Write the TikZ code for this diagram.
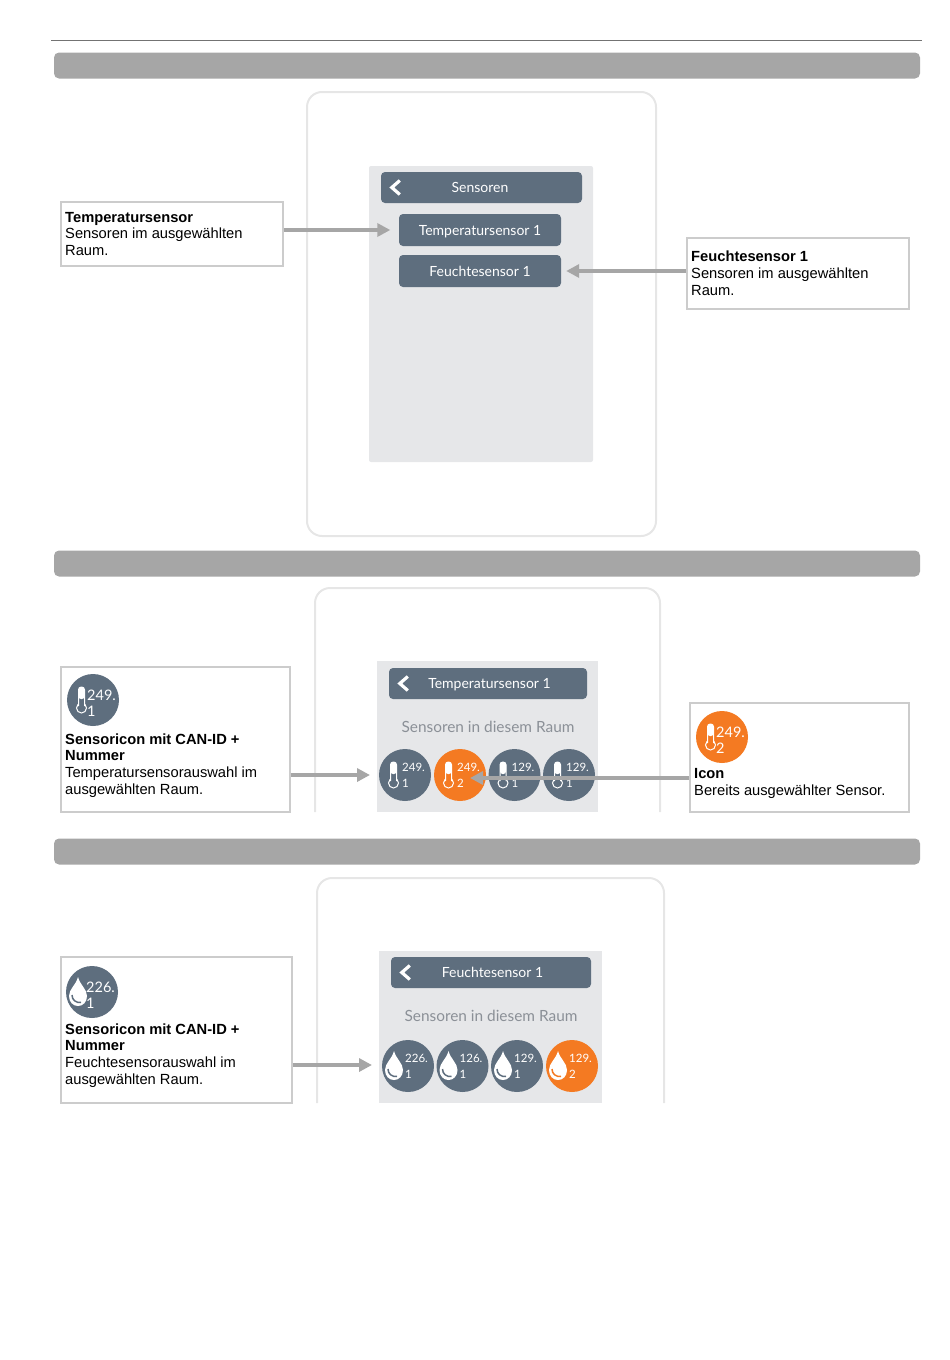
\documentclass[tikz,border=0pt]{standalone}
\usepackage{fontspec}
\setmainfont{Liberation Sans}
\newfontfamily\uifont{Lato}
\usetikzlibrary{arrows.meta}
\definecolor{slate}{HTML}{5E6E7E}
\definecolor{signal}{HTML}{F47A22}
\definecolor{barcol}{HTML}{A6A6A6}
\definecolor{screencol}{HTML}{E6E7E9}
\definecolor{shellcol}{HTML}{E6E6E6}
\definecolor{framecol}{HTML}{CCCCCC}
\definecolor{captioncol}{HTML}{8B9097}
\tikzset{
  headbar/.style={fill=barcol, rounded corners=5pt, inner sep=0pt, minimum width=866pt, minimum height=26pt},
  infobox/.style={draw=framecol, line width=1.1pt, fill=white, inner sep=0pt},
  infotext/.style={anchor=west, inner sep=0pt, align=left, font=\fontsize{14.7}{16.8}\selectfont},
  titlebar/.style={fill=slate, rounded corners=4pt, inner sep=0pt, text=white, text height=11pt, text depth=1pt, font=\uifont\fontsize{14}{16}\selectfont},
  caption/.style={inner sep=0pt, text=captioncol, font=\uifont\fontsize{15.4}{17}\selectfont},
  sensordot/.style={circle, inner sep=0pt, minimum size=52pt},
  smalldigit/.style={anchor=west, inner sep=0pt, text=white, font=\uifont\fontsize{11.5}{14}\selectfont},
  bigdigit/.style={smalldigit, xshift=-3pt, yshift=-3pt, font=\uifont\fontsize{14.5}{16}\selectfont},
  shell/.style={draw=shellcol, line width=2pt, rounded corners=15pt},
  pointer/.style={draw=barcol, line width=3.5pt, -{Triangle[length=13pt,width=13pt]}}
}
% dot with thermometer: name, x, y, colour, upper, lower, text style
\newcommand{\thermodot}[7]{
  \begin{scope}[shift={(#2,#3)}]
    \node [sensordot, fill=#4] (#1) at (0,0) {};
    \draw [white, line width=1pt] (-11.5,8) circle (5);
    \draw [white, line width=1pt, fill=#4, rounded corners=2.8pt] (-14.5,6) -- (-14.5,-13) -- (-8.5,-13) -- (-8.5,6);
    \fill [white, rounded corners=2.5pt] (-14.5,-1) -- (-14.5,-13) -- (-8.5,-13) -- (-8.5,-1) -- cycle;
    \node [#7] (#1up) at (-3,-8) {#5};
    \node [#7] (#1low) at (-3,8) {#6};
  \end{scope}
}
% dot with drop
\newcommand{\dropdot}[7]{
  \begin{scope}[shift={(#2,#3)}]
    \node [sensordot, fill=#4] (#1) at (0,0) {};
    \fill [white] (-14,-15) .. controls (-16,-7) and (-23,-3) .. (-23,4) .. controls (-23,10) and (-19,14) .. (-14,14) .. controls (-9,14) and (-5,10) .. (-5,4) .. controls (-5,-3) and (-12,-7) .. (-14,-15);
    \draw [#4, line width=1.5pt] (-20,3) .. controls (-20,8) and (-16,11) .. (-11,10.5);
    \node [#7] (#1up) at (-3,-8) {#5};
    \node [#7] (#1low) at (-3,8) {#6};
  \end{scope}
}
% back mark inside a title bar
\newcommand{\backmark}[1]{
  \draw [white, line width=3.2pt] ([shift={(19,-7)}]#1.west) -- ([shift={(11,0)}]#1.west) -- ([shift={(19,7)}]#1.west);
}
\begin{document}
\begin{tikzpicture}[x=1pt, y=-1pt]
\useasboundingbox (0,0) rectangle (950,1360);
\draw [black!55, line width=0.8pt] (51,40.5) -- (922,40.5);
\node [headbar] (headone) at (487,65.5) {};
\node [headbar] (headtwo) at (487,563.5) {};
\node [headbar] (headthree) at (487,851.5) {};
% first panel
\draw [shell] (307,92) rectangle (656,536);
\fill [screencol, rounded corners=2pt] (369,166) rectangle (593,462);
\node [titlebar, minimum width=201pt, minimum height=31pt] (baronelabel) at (481.5,187.5) {\hspace*{-3pt}Sensoren};
\backmark{baronelabel}
\node [titlebar, minimum width=162pt, minimum height=32pt] (btntemp) at (480,230) {Temperatursensor 1};
\node [titlebar, minimum width=162pt, minimum height=32pt] (btnhum) at (480,271) {Feuchtesensor 1};
\node [infobox, minimum width=222pt, minimum height=64pt] (tempbox) at (172,234) {};
\node [infotext] (temptext) at (65,234) {\textbf{Temperatursensor}\\Sensoren im ausgewählten\\Raum.};
\node [infobox, minimum width=222pt, minimum height=71pt] (humbox) at (798,273.5) {};
\node [infotext] (humtext) at (691,273.5) {\textbf{Feuchtesensor 1}\\Sensoren im ausgewählten\\Raum.};
\draw [pointer, shorten >=8.5pt] (tempbox.east |- btntemp) -- (btntemp.west);
\draw [pointer, shorten >=5pt] (humbox.west |- btnhum) -- (btnhum.east);
% second panel
\draw [shell] (315,812) -- (315,588) -- (660,588) -- (660,812);
\fill [screencol] (377,661) rectangle (598,812);
\node [titlebar, minimum width=198pt, minimum height=31pt] (bartwolabel) at (488,683.5) {\hspace*{3pt}Temperatursensor 1};
\backmark{bartwolabel}
\node [caption] (captwo) at (488,727) {Sensoren in diesem Raum};
\thermodot{tdotone}{405}{775}{slate}{249.}{1}{smalldigit}
\thermodot{tdottwo}{460}{775}{signal}{249.}{2}{smalldigit}
\thermodot{tdotthree}{514.5}{775}{slate}{129.}{1}{smalldigit}
\thermodot{tdotfour}{569}{775}{slate}{129.}{1}{smalldigit}
\node [infobox, minimum width=229pt, minimum height=145pt] (sensorbox) at (175.5,739.5) {};
\thermodot{tdotbig}{93}{700}{slate}{249.}{1}{bigdigit}
\node [infotext] (sensortext) at (65,765.5) {\textbf{Sensoricon mit CAN-ID +}\\\textbf{Nummer}\\Temperatursensorauswahl im\\ausgewählten Raum.};
\node [infobox, minimum width=219pt, minimum height=109pt] (iconbox) at (799.5,757.5) {};
\thermodot{tdotsel}{722}{737}{signal}{249.}{2}{bigdigit}
\node [infotext] (icontext) at (694,783.5) {\textbf{Icon}\\Bereits ausgewählter Sensor.};
\coordinate (sensortip) at (370,775);
\draw [pointer] (sensorbox.east |- sensortip) -- (sensortip);
\coordinate (icontip) at (470,778);
\draw [pointer] (iconbox.west |- icontip) -- (icontip);
% third panel
\draw [shell] (317,1103) -- (317,878) -- (664,878) -- (664,1103);
\fill [screencol] (379,951) rectangle (602,1103);
\node [titlebar, minimum width=200pt, minimum height=31pt] (barthreelabel) at (491,972.5) {\hspace*{3pt}Feuchtesensor 1};
\backmark{barthreelabel}
\node [caption] (capthree) at (491,1016) {Sensoren in diesem Raum};
\dropdot{ddotone}{408}{1066}{slate}{226.}{1}{smalldigit}
\dropdot{ddottwo}{462.5}{1066}{slate}{126.}{1}{smalldigit}
\dropdot{ddotthree}{517}{1066}{slate}{129.}{1}{smalldigit}
\dropdot{ddotfour}{572}{1066}{signal}{129.}{2}{smalldigit}
\node [infobox, minimum width=231pt, minimum height=146pt] (dropbox) at (176.5,1030) {};
\dropdot{ddotbig}{92}{992}{slate}{226.}{1}{bigdigit}
\node [infotext] (droptext) at (65,1055.5) {\textbf{Sensoricon mit CAN-ID +}\\\textbf{Nummer}\\Feuchtesensorauswahl im\\ausgewählten Raum.};
\coordinate (droptip) at (372,1065);
\draw [pointer] (dropbox.east |- droptip) -- (droptip);
\end{tikzpicture}
\end{document}
